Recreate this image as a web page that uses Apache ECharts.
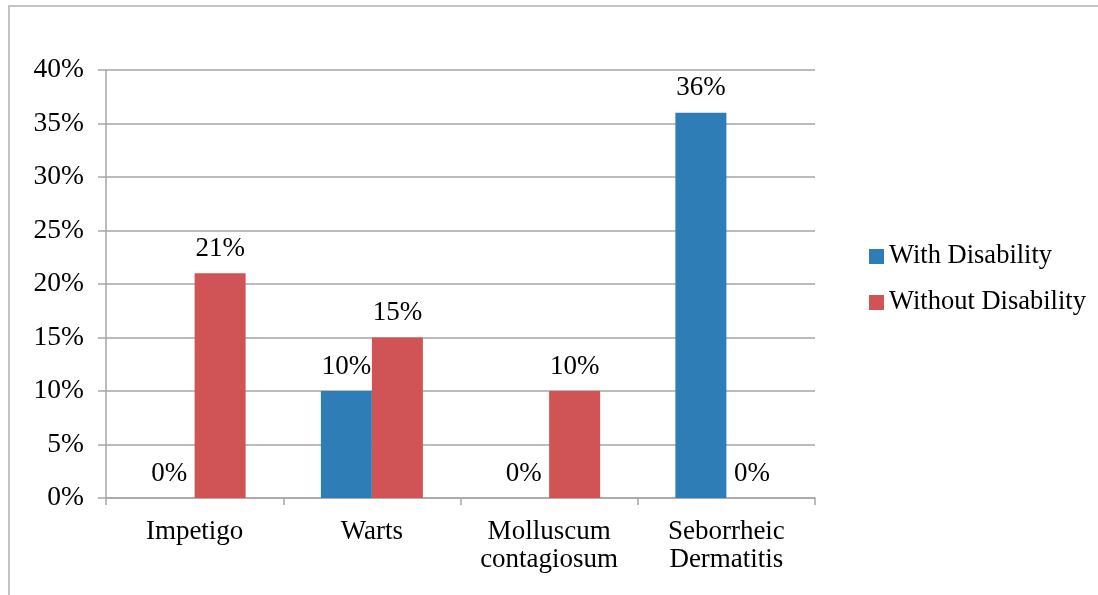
<!DOCTYPE html>
<html>
<head>
<meta charset="utf-8">
<script src="https://cdn.jsdelivr.net/npm/echarts@6/dist/echarts.min.js"></script>
<style>
  html, body { margin: 0; padding: 0; background: #fff; }
  #chart { width: 1098px; height: 595px; }
</style>
</head>
<body>
<div id="chart"></div>
<script>
// categories and values
const categories = ["Impetigo", "Warts", "Molluscum\ncontagiosum", "Seborrheic\nDermatitis"];
const withDisability = [0, 10, 0, 36];
const withoutDisability = [21, 15, 10, 0];
const seriesNames = ["With Disability", "Without Disability"];

const serif = "Liberation Serif";
const gridColor = "#a6a6a6";

let myChart = echarts.init(document.getElementById("chart"));

let option = {
    animation: false,
    graphic: [
        {
            type: "rect",
            shape: { x: 9, y: 6, width: 1200, height: 700 },
            style: { fill: "none", stroke: "#c4c4c4", lineWidth: 2 }
        }
    ],
    grid: {
        left: 106,
        top: 70,
        right: 283,
        bottom: 97
    },
    legend: {
        orient: "vertical",
        left: 864,
        top: 238,
        itemWidth: 15,
        itemHeight: 15,
        itemGap: 19,
        icon: "rect",
        textStyle: {
            fontFamily: serif,
            fontSize: 26.5,
            lineHeight: 27,
            color: "#000"
        },
        data: seriesNames
    },
    xAxis: {
        type: "category",
        data: categories,
        axisLine: { lineStyle: { color: gridColor, width: 1.5 } },
        axisTick: { show: true, length: 7, lineStyle: { color: gridColor, width: 1.5 } },
        axisLabel: {
            fontFamily: serif,
            fontSize: 27,
            lineHeight: 28,
            color: "#000",
            margin: 20,
            interval: 0
        }
    },
    yAxis: {
        type: "value",
        min: 0,
        max: 40,
        interval: 5,
        axisLine: { show: true, lineStyle: { color: gridColor, width: 1.5 } },
        axisTick: { show: true, length: 8, lineStyle: { color: gridColor, width: 1.5 } },
        splitLine: { lineStyle: { color: gridColor, width: 1.5 } },
        axisLabel: {
            fontFamily: serif,
            fontSize: 27.5,
            color: "#000",
            margin: 22,
            formatter: "{value}%"
        }
    },
    series: [
        {
            name: seriesNames[0],
            type: "bar",
            data: withDisability,
            barWidth: 51,
            barGap: "0%",
            itemStyle: { color: "#2e7db6" },
            label: {
                show: true,
                position: "top",
                distance: 11,
                fontFamily: serif,
                fontSize: 27,
                color: "#000",
                formatter: "{c}%"
            }
        },
        {
            name: seriesNames[1],
            type: "bar",
            data: withoutDisability,
            barWidth: 51,
            barGap: "0%",
            itemStyle: { color: "#d05355" },
            label: {
                show: true,
                position: "top",
                distance: 11,
                fontFamily: serif,
                fontSize: 27,
                color: "#000",
                formatter: "{c}%"
            }
        }
    ]
};

myChart.setOption(option);
</script>
</body>
</html>
